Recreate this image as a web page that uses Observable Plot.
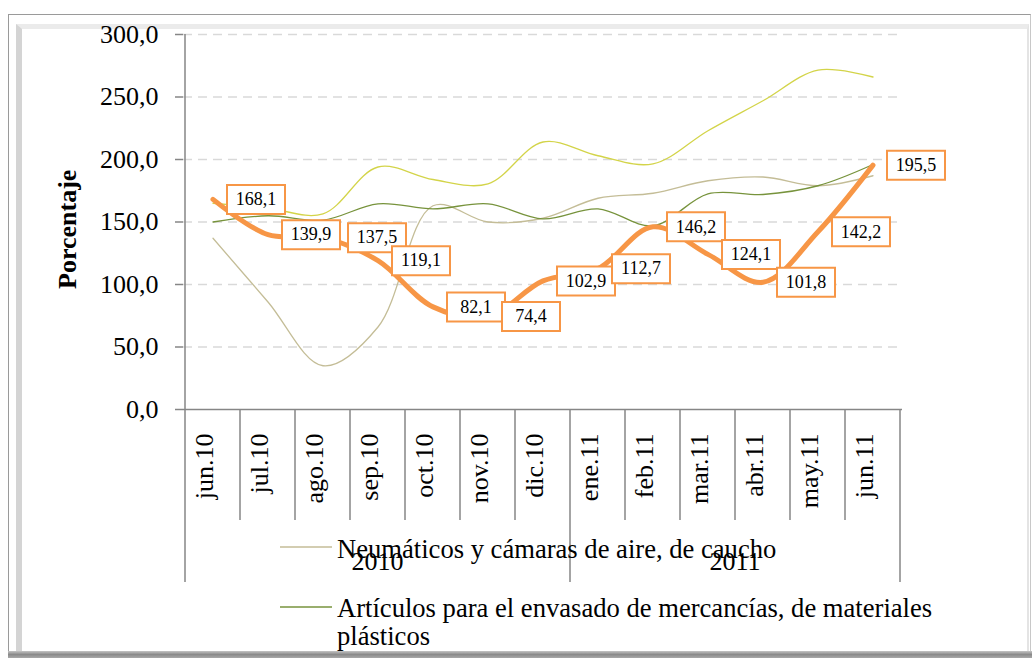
<!DOCTYPE html>
<html><head><meta charset="utf-8">
<script src="https://cdn.jsdelivr.net/npm/d3@7"></script>
<script src="https://cdn.jsdelivr.net/npm/@observablehq/plot@0.6"></script>
<style>
html,body{margin:0;padding:0;background:#fff;width:1032px;height:658px;overflow:hidden;position:relative;font-family:'Liberation Serif','Times New Roman',serif;}
#outer{position:absolute;left:8px;top:14px;width:1023px;height:660px;border-left:1px solid #9a9a9a;border-top:1px solid #9a9a9a;border-right:1px solid #c8c8c8;box-sizing:border-box;}
#bevel{position:absolute;left:16px;top:24px;width:1013px;height:630px;box-sizing:border-box;border-left:6px solid #d4d4d4;border-top:5px solid #ebebeb;border-right:2px solid #e4e4e4;}
#bottom{position:absolute;left:8px;top:651px;width:1024px;height:7px;background:linear-gradient(#c4c4c4,#8a8a8a,#a8a8a8);}
#chart{position:absolute;left:0;top:0;}
</style></head><body>
<div id="outer"></div><div id="bevel"></div><div id="bottom"></div>
<div id="chart"></div>
<script>
// ---- data ----
const months = ["jun.10","jul.10","ago.10","sep.10","oct.10","nov.10","dic.10","ene.11","feb.11","mar.11","abr.11","may.11","jun.11"];
const yearLabels = ["2010","2011"];
const yTicks = [0, 50, 100, 150, 200, 250, 300];
const serieNaranja = [168.1, 139.9, 137.5, 119.1, 82.1, 74.4, 102.9, 112.7, 146.2, 124.1, 101.8, 142.2, 195.5];
const serieAmarilla = [165, 161, 156.5, 194, 184, 180.5, 214, 203, 196.5, 223, 247, 271.5, 266];
const neumaticos = [137, 86, 35, 66, 163, 150, 153, 169, 173, 183, 186, 179, 187];
const envasado = [150, 155, 151.5, 164.5, 160.5, 164.5, 152.5, 160.5, 147, 172.5, 172, 179, 196];
const legendNames = ["Neumáticos y cámaras de aire, de caucho", "Artículos para el envasado de mercancías, de materiales", "plásticos"];
const axisTitle = "Porcentaje";

// ---- helpers ----
const fmt = v => v.toFixed(1).replace(".", ",");
const toRows = vals => months.map((m, i) => ({month: m, value: vals[i], i}));
const rowsN = toRows(serieNaranja), rowsA = toRows(serieAmarilla), rowsT = toRows(neumaticos), rowsG = toRows(envasado);
const C = {orange: "#F79646", yellow: "#D3D449", tan: "#C4BD97", green: "#77933C", axis: "#868686", grid: "#d9d9d9"};
const boxSymbol = {draw(ctx) { ctx.moveTo(-29, -14.5); ctx.lineTo(29, -14.5); ctx.lineTo(29, 14.5); ctx.lineTo(-29, 14.5); ctx.closePath(); }};
const font = "'Liberation Serif','Times New Roman',serif";
const labelMarks = (rows, dx) => [
  Plot.dot(rows, {x: "month", y: "value", symbol: boxSymbol, r: 5, fill: "white", stroke: C.orange, strokeWidth: 2, dx}),
  Plot.text(rows, {x: "month", y: "value", text: d => fmt(d.value), dx, fontSize: 18, fill: "#000", fontFamily: font})
];

const chart = Plot.plot({
  width: 1032, height: 658,
  marginLeft: 183, marginRight: 130, marginTop: 34, marginBottom: 249,
  style: {background: "transparent", fontFamily: font, color: "#000", overflow: "visible"},
  x: {type: "band", domain: months, padding: 0, axis: null},
  y: {domain: [0, 300], axis: null},
  marks: [
    Plot.gridY(yTicks.filter(v => v > 0), {stroke: C.grid, strokeOpacity: 1, strokeWidth: 1.5, strokeDasharray: "9,6"}),
    Plot.axisY(yTicks, {tickSize: 8, tickPadding: 17, fontSize: 26, tickFormat: fmt, stroke: C.axis, strokeWidth: 1.5, fill: "#000", label: null}),
    Plot.ruleY([0], {stroke: C.axis, strokeWidth: 1.5}),
    Plot.line(rowsT, {x: "month", y: "value", curve: "catmull-rom", stroke: C.tan, strokeWidth: 1.3}),
    Plot.line(rowsA, {x: "month", y: "value", curve: "catmull-rom", stroke: C.yellow, strokeWidth: 1.3}),
    Plot.line(rowsG, {x: "month", y: "value", curve: "catmull-rom", stroke: C.green, strokeWidth: 1.3}),
    Plot.line(rowsN, {x: "month", y: "value", curve: "catmull-rom", stroke: C.orange, strokeWidth: 5, strokeLinecap: "round", strokeLinejoin: "round"}),
    ...labelMarks(rowsN.filter(d => d.i === 2), 54),
    ...labelMarks(rowsN.filter(d => d.i !== 2), 43),
    Plot.text(months, {x: d => d, frameAnchor: "bottom", rotate: -90, textAnchor: "end", dy: 24, fontSize: 26, fill: "#000"}),
    Plot.text([axisTitle], {frameAnchor: "left", rotate: -90, dx: -116, dy: 67, fontSize: 26, fontWeight: "bold", fill: "#000"})
  ]
});

// ---- category axis separators, year groups, legend (via Plot's scales) ----
const xs = chart.scale("x"), ys = chart.scale("y");
const bw = xs.bandwidth;
const y0 = ys.apply(0), yTop = ys.apply(300);
const svg = d3.select(chart);
const g = svg.append("g");
const yearOf = m => "20" + m.split(".")[1];
const bounds = months.map(m => xs.apply(m)).concat([xs.apply(months[months.length - 1]) + bw]);
const groupIdx = new Set([0, months.length]);
months.forEach((m, i) => { if (i > 0 && yearOf(m) !== yearOf(months[i - 1])) groupIdx.add(i); });
g.append("line").attr("x1", bounds[0]).attr("x2", bounds[0]).attr("y1", yTop).attr("y2", y0)
  .attr("stroke", C.axis).attr("stroke-width", 1.5);
bounds.forEach((bx, i) => {
  g.append("line").attr("x1", bx).attr("x2", bx).attr("y1", y0)
    .attr("y2", y0 + (groupIdx.has(i) ? 173 : 111))
    .attr("stroke", C.axis).attr("stroke-width", 1.5);
});
yearLabels.forEach(yl => {
  const idx = months.map((m, i) => i).filter(i => yearOf(months[i]) === yl);
  const cx = (bounds[idx[0]] + bounds[idx[idx.length - 1] + 1]) / 2;
  g.append("text").attr("x", cx).attr("y", y0 + 161).attr("text-anchor", "middle")
    .attr("font-size", 26).attr("fill", "#000").text(yl);
});
// legend
const leg = svg.append("g").attr("font-size", 26.6).attr("fill", "#000").attr("text-anchor", "start");
[[C.tan, legendNames[0], 547, 558], [C.green, legendNames[1], 607, 617]].forEach(([col, txt, ly, by]) => {
  leg.append("line").attr("x1", 280).attr("x2", 332).attr("y1", ly).attr("y2", ly).attr("stroke", col).attr("stroke-width", 1.5);
  leg.append("text").attr("x", 337).attr("y", by).attr("text-anchor", "start").text(txt);
});
leg.append("text").attr("x", 337).attr("y", 645).attr("text-anchor", "start").text(legendNames[2]);

document.getElementById("chart").appendChild(chart);
</script></body></html>
